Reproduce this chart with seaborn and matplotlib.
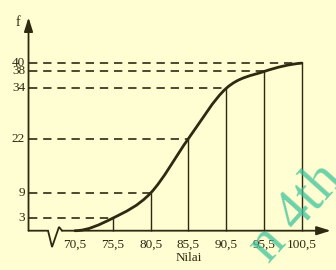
import numpy as np
import pandas as pd
import matplotlib
matplotlib.use("Agg")
import matplotlib.pyplot as plt
import seaborn as sns
from matplotlib.path import Path
from matplotlib.patches import PathPatch

# ---- data ----
nilai = [70.5, 75.5, 80.5, 85.5, 90.5, 95.5, 100.5]
frek_kum = [0, 3, 9, 22, 34, 38, 40]
x_labels = ["70,5", "75,5", "80,5", "85,5", "90,5", "95,5", "100,5"]
y_ticks = [3, 9, 22, 34, 38, 40]
y_labels = ["3", "9", "22", "34", "38", "40"]

BG = "#FFFDD2"
INK = "#2E2A12"

sns.set_theme(style="white", rc={"axes.facecolor": BG, "figure.facecolor": BG})
plt.rcParams["font.family"] = ["Liberation Serif", "DejaVu Serif"]

fig = plt.figure(figsize=(3.36, 2.70), dpi=100)
ax = fig.add_axes([0, 0, 1, 1])
ax.set_xlim(60.58, 105.0)
ax.set_ylim(-9.38, 55.06)
ax.axis("off")

df = pd.DataFrame({"nilai": nilai, "f": frek_kum})
x0 = 64.35  # y-axis position (data units)

# smooth ogive via cubic Bezier segments (central-difference tangents)
xs = np.array(df["nilai"], float)
ys = np.array(df["f"], float)
h = np.diff(xs)
m = np.zeros_like(ys)
m[1:-1] = (ys[2:] - ys[:-2]) / (xs[2:] - xs[:-2])
m[0] = 0.0
m[-1] = 0.15
verts = [(xs[0], ys[0])]
codes = [Path.MOVETO]
for k in range(len(xs) - 1):
    verts += [(xs[k] + h[k] / 3, ys[k] + m[k] * h[k] / 3),
              (xs[k + 1] - h[k] / 3, ys[k + 1] - m[k + 1] * h[k] / 3),
              (xs[k + 1], ys[k + 1])]
    codes += [Path.CURVE4] * 3
ax.add_patch(PathPatch(Path(verts, codes), fill=False, lw=2.0, color=INK,
                       capstyle="round", zorder=4))

# guide lines
pts = df[df["f"] > 0]
ax.hlines(pts["f"], x0, pts["nilai"], colors=INK, lw=1.2,
          linestyles=(0, (5, 3.5)), zorder=2)
ax.vlines(pts["nilai"], 0, pts["f"], colors=INK, lw=1.0, zorder=2)

# axes with arrows and the broken-axis zigzag
ax.annotate("", xy=(x0, 50.9), xytext=(x0, 0),
            arrowprops=dict(arrowstyle="-|>,head_width=0.22,head_length=0.7",
                            color=INK, lw=1.3, shrinkA=0, shrinkB=0))
ax.annotate("", xy=(104.3, 0), xytext=(68.78, 0),
            arrowprops=dict(arrowstyle="-|>,head_width=0.22,head_length=0.7",
                            color=INK, lw=1.3, shrinkA=0, shrinkB=0))
ax.plot([x0, 66.93, 67.46, 68.38, 68.78], [0, 0, -3.9, 0.9, 0],
        color=INK, lw=1.3, solid_joinstyle="miter")

# tick labels
for xv, lab in zip(nilai, x_labels):
    ax.text(xv, -3.4, lab, ha="center", va="center", fontsize=9.5, color=INK)
for yv, lab in zip(y_ticks, y_labels):
    ax.text(63.9, yv, lab, ha="right", va="center", fontsize=9.5, color=INK)
ax.text(63.0, 49.8, "f", ha="center", va="center", fontsize=10, color=INK)
ax.text(85.6, -6.4, "Nilai", ha="center", va="center", fontsize=9.5, color=INK)

# watermark
fig.text(296 / 336, 1 - 212 / 270, "n 4th", rotation=48, ha="center", va="center",
         fontsize=40, color="#3CC29A", alpha=0.75, zorder=10)

fig.savefig("out.png", dpi=100, facecolor=BG)
